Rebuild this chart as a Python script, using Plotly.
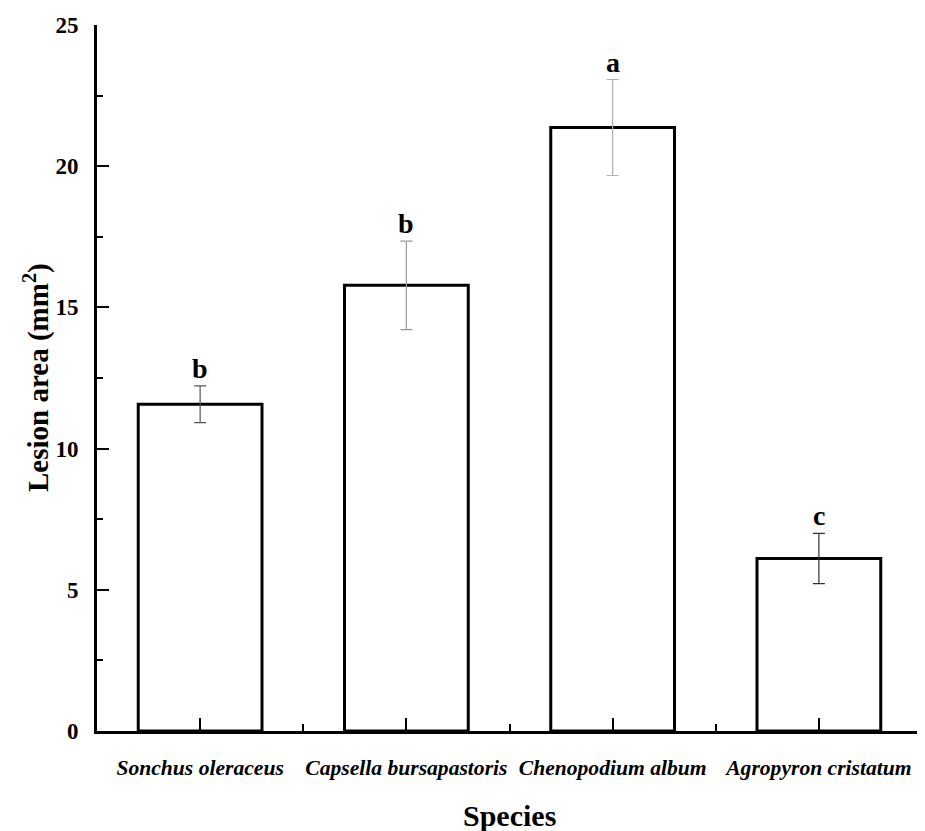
import plotly.graph_objects as go

species = ["Sonchus oleraceus", "Capsella bursapastoris", "Chenopodium album", "Agropyron cristatum"]
lesion_area = [11.57, 15.78, 21.37, 6.11]
lesion_err = [0.65, 1.57, 1.70, 0.89]
letters = ["b", "b", "a", "c"]
y_ticks = [0, 5, 10, 15, 20, 25]

err_colors = ["#555555", "#9a9a9a", "#b0b0b0", "#333333"]
FONT = "Liberation Serif, Times New Roman, serif"

xpos = list(range(len(species)))

fig = go.Figure()
for i in xpos:
    fig.add_trace(go.Bar(
        x=[xpos[i]], y=[lesion_area[i]], width=0.6,
        marker=dict(color="white", line=dict(color="black", width=3)),
        error_y=dict(type="data", array=[lesion_err[i]], visible=True,
                     color=err_colors[i], thickness=1.2, width=6),
        showlegend=False, hoverinfo="skip",
    ))

for i in xpos:
    fig.add_annotation(
        x=xpos[i], y=lesion_area[i] + lesion_err[i], text="<b>%s</b>" % letters[i],
        showarrow=False, yanchor="bottom", yshift=0,
        font=dict(family=FONT, size=28, color="black"),
    )

# axis titles
fig.add_annotation(
    xref="paper", yref="paper", x=0, y=0.5, xanchor="center", yanchor="middle",
    xshift=-61, textangle=-90, showarrow=False,
    text="<b>Lesion area (mm<sup>2</sup>)</b>",
    font=dict(family=FONT, size=29, color="black"),
)
fig.add_annotation(
    xref="paper", yref="paper", x=0.5, y=0, xanchor="center", yanchor="middle",
    yshift=-84, showarrow=False,
    text="<b>Species</b>",
    font=dict(family=FONT, size=30, color="black"),
)

fig.update_layout(
    width=917, height=823,
    margin=dict(l=89, r=3, t=17, b=100, autoexpand=False),
    plot_bgcolor="white", paper_bgcolor="white",
    font=dict(family=FONT, color="black"),
)

fig.update_xaxes(
    range=[-0.5, 3.5], automargin=False,
    tickmode="array", tickvals=xpos,
    ticktext=["<b><i>%s</i></b>" % s for s in species],
    tickfont=dict(family=FONT, size=21.6),
    ticks="inside", ticklen=13, tickwidth=2, tickcolor="black",
    ticklabelstandoff=15,
    minor=dict(tickmode="array", tickvals=[-0.5, 0.5, 1.5, 2.5, 3.5],
               ticks="inside", ticklen=7, tickwidth=2, tickcolor="black"),
    showline=True, linecolor="black", linewidth=3,
    showgrid=False, zeroline=False,
)

fig.update_yaxes(
    range=[0, 25], automargin=False,
    tickmode="array", tickvals=y_ticks,
    ticktext=["<b>%d</b>" % v for v in y_ticks],
    tickfont=dict(family=FONT, size=23),
    ticks="inside", ticklen=12, tickwidth=2, tickcolor="black",
    ticklabelstandoff=11,
    minor=dict(tickmode="array", tickvals=[2.5, 7.5, 12.5, 17.5, 22.5],
               ticks="inside", ticklen=6, tickwidth=2, tickcolor="black"),
    showline=True, linecolor="black", linewidth=3,
    showgrid=False, zeroline=False,
)

fig.write_html("out.html")
